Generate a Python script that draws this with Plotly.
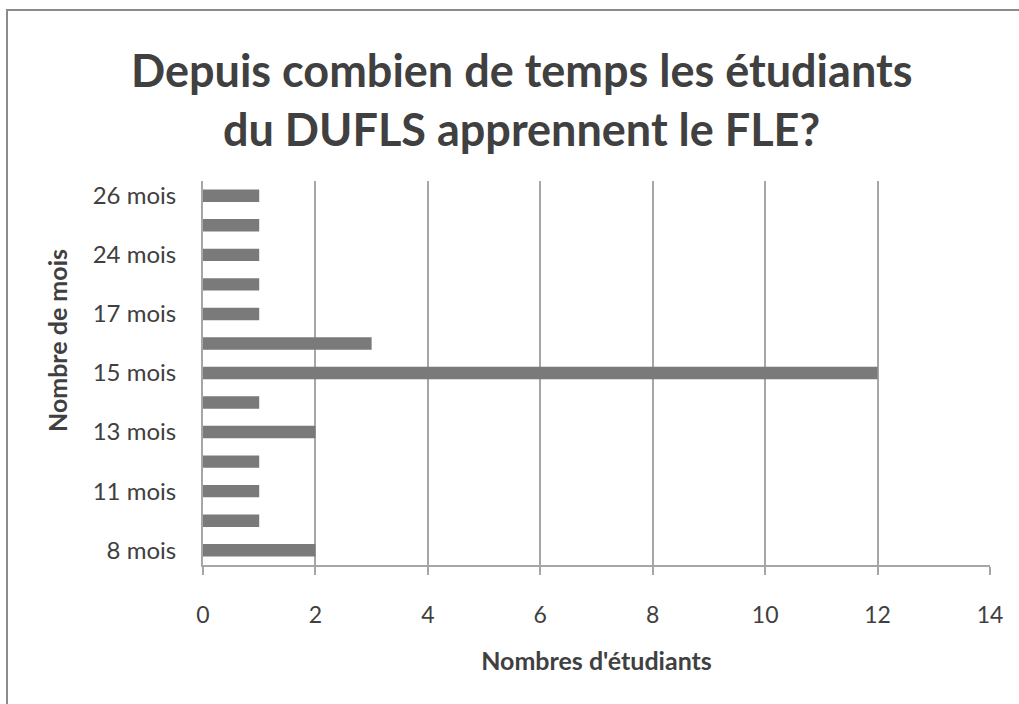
import plotly.graph_objects as go

categories = ["8 mois", "10 mois", "11 mois", "12 mois", "13 mois", "14 mois", "15 mois",
              "16 mois", "17 mois", "18 mois", "24 mois", "25 mois", "26 mois"]
values = [2, 1, 1, 1, 2, 1, 12, 3, 1, 1, 1, 1, 1]
shown_labels = ["8 mois", "11 mois", "13 mois", "15 mois", "17 mois", "24 mois", "26 mois"]
x_ticks = [0, 2, 4, 6, 8, 10, 12, 14]

FONT = "Lato"
TXT = "#404040"
GRID = "#a6a6a6"

fig = go.Figure(go.Bar(
    y=categories, x=values, orientation="h",
    marker=dict(color="#7a7a7a", line=dict(width=0)),
))

fig.update_layout(
    width=1019, height=704,
    margin=dict(l=203, r=29, t=181, b=139, autoexpand=False),
    paper_bgcolor="white", plot_bgcolor="white",
    bargap=0.58, showlegend=False,
    font=dict(family=FONT, color=TXT),
)

fig.update_xaxes(
    range=[0, 14], tickvals=x_ticks, ticktext=[str(v) for v in x_ticks],
    showgrid=True, gridcolor=GRID, gridwidth=1.5,
    showline=True, linecolor=GRID, linewidth=2,
    ticks="outside", ticklen=8, tickcolor=GRID, tickwidth=1.5,
    tickfont=dict(size=23, color=TXT, family=FONT), zeroline=False,
    ticklabelstandoff=20,
    title=dict(text="<b>Nombres d'étudiants</b>", font=dict(size=25, color=TXT, family=FONT), standoff=26),
)
fig.update_yaxes(
    type="category", categoryorder="array", categoryarray=categories,
    range=[-0.5, 12.5],
    tickvals=shown_labels, ticktext=shown_labels,
    showgrid=False, showline=True, linecolor=GRID, linewidth=2,
    ticks="", ticklabelstandoff=20,
    tickfont=dict(size=24, color=TXT, family=FONT),
)

# Y-axis title (placed where the original draws it)
fig.add_annotation(
    text="<b>Nombre de mois</b>", xref="paper", yref="paper",
    x=(57 - 203) / 787, y=(565 - 341) / 384, textangle=-90,
    xanchor="center", yanchor="middle", showarrow=False,
    font=dict(size=25, color=TXT, family=FONT),
)

# Title as two centered lines
for txt, ypix in [("<b>Depuis combien de temps les étudiants</b>", 70),
                  ("<b>du DUFLS apprennent le FLE?</b>", 129)]:
    fig.add_annotation(
        text=txt, xref="paper", yref="paper",
        x=(521 - 203) / 787, y=(565 - ypix) / 384,
        xanchor="center", yanchor="middle", showarrow=False,
        font=dict(size=45, color=TXT, family=FONT),
    )

# Chart area border (partly out of frame)
fig.add_shape(type="rect", xref="paper", yref="paper",
              x0=(7 - 203) / 787, y0=-0.6, x1=1.2, y1=(565 - 10) / 384,
              line=dict(color="#8c8c8c", width=2), layer="below")

fig.write_html("out.html", config={"displayModeBar": False},
               post_script="document.body.style.margin='0';")
